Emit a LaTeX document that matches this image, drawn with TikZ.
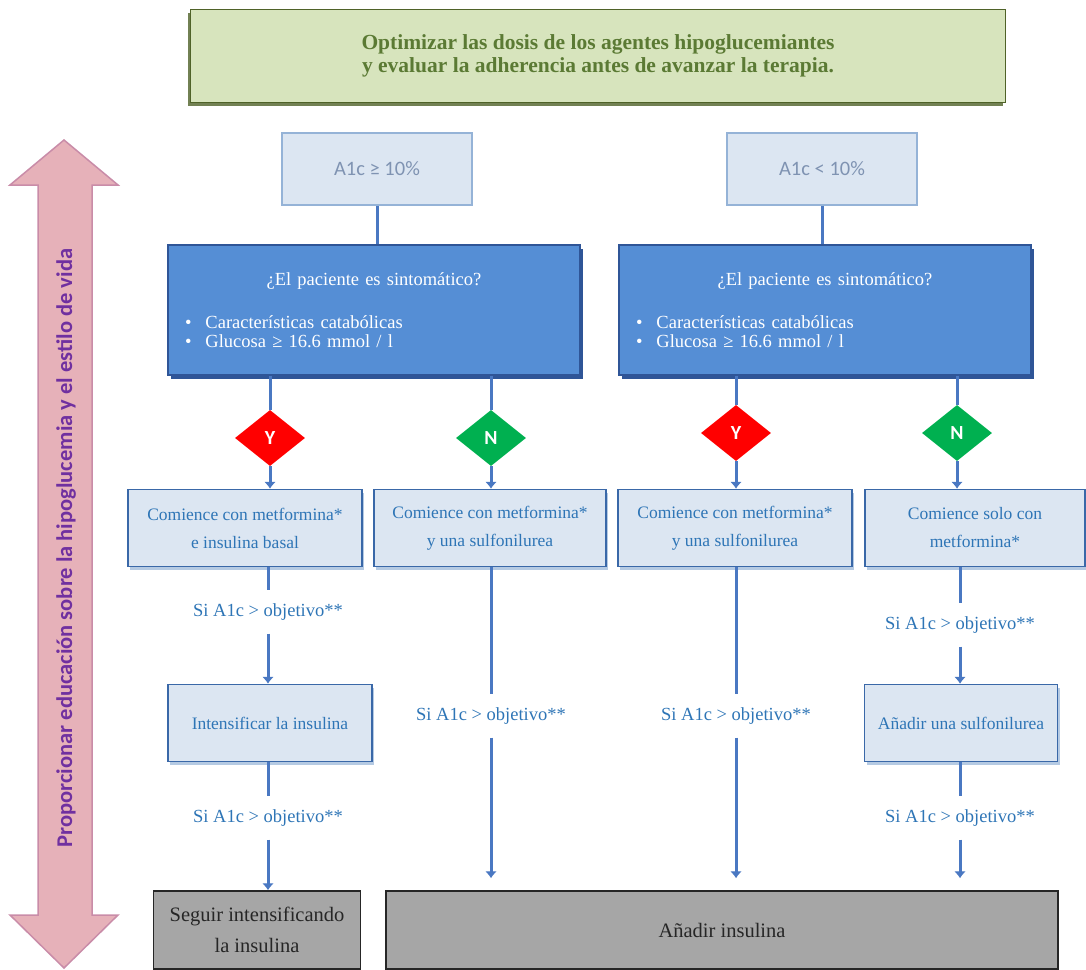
\documentclass[tikz,border=0pt]{standalone}
\usepackage{fontspec}
\setmainfont{Liberation Serif}
\setsansfont{Carlito}
\usetikzlibrary{shapes.geometric,arrows.meta,shadows}

\definecolor{greenfill}{HTML}{D7E4BD}
\definecolor{greenline}{HTML}{4F6228}
\definecolor{greentext}{HTML}{5B7A34}
\definecolor{pinkfill}{HTML}{E6B1B9}
\definecolor{pinkline}{HTML}{C98CA8}
\definecolor{purpletext}{HTML}{7030A0}
\definecolor{lightfill}{HTML}{DCE6F2}
\definecolor{lightline}{HTML}{95B3D7}
\definecolor{boxline}{HTML}{3A68A8}
\definecolor{bluefill}{HTML}{558ED5}
\definecolor{blueline}{HTML}{2F5597}
\definecolor{linkblue}{HTML}{4A78C2}
\definecolor{labelblue}{HTML}{2E75B6}
\definecolor{greyfill}{HTML}{A6A6A6}
\definecolor{greytext}{HTML}{262626}
\definecolor{yesred}{HTML}{FF0000}
\definecolor{nogreen}{HTML}{00B050}
\definecolor{a1ctext}{HTML}{7F93B2}

\tikzset{
  topbox/.style={draw=greenline, line width=1.5pt, fill=greenfill, text=greentext,
    minimum width=815pt, minimum height=93pt, align=center,
    font=\bfseries\fontsize{21.5}{23}\selectfont,
    general shadow={fill=greenline!80, shadow xshift=-3pt, shadow yshift=-3pt}},
  a1cbox/.style={draw=lightline, line width=1.5pt, fill=lightfill, text=a1ctext,
    minimum width=190pt, minimum height=72pt, font=\sffamily\fontsize{20.5}{22}\selectfont},
  bluebox/.style={draw=blueline, line width=1.2pt, fill=bluefill, text=white,
    minimum width=412pt, minimum height=130pt, text width=378pt, inner xsep=17pt,
    align=left, font=\fontsize{18.5}{19}\selectfont,
    general shadow={fill=blueline, shadow xshift=3pt, shadow yshift=-4pt}},
  lightbox/.style={draw=boxline, line width=1.5pt, fill=lightfill, text=labelblue,
    minimum height=77pt, inner sep=0pt, align=center, font=\fontsize{17.5}{28}\selectfont,
    general shadow={fill=lightline!70, shadow xshift=2pt, shadow yshift=-3pt}},
  greybox/.style={draw=greytext, line width=1.5pt, fill=greyfill, text=greytext,
    minimum height=78pt, inner sep=0pt, align=center, font=\fontsize{20.5}{31}\selectfont},
  yesdiamond/.style={diamond, fill=yesred, text=white, minimum width=70pt,
    minimum height=56pt, inner sep=0pt, font=\sffamily\bfseries\fontsize{20}{20}\selectfont},
  nodiamond/.style={yesdiamond, fill=nogreen},
  cond/.style={text=labelblue, inner xsep=2pt, inner ysep=13pt, font=\fontsize{18.5}{19}\selectfont},
  link/.style={draw=linkblue, line width=3pt},
  arrowlink/.style={link, -{Latex[length=7pt,width=12pt]}}
}

\begin{document}
\begin{tikzpicture}[x=1pt,y=-1pt]
  \useasboundingbox (0,0) rectangle (1086,969);

  % left double arrow
  \draw[pinkline, line width=1.5pt, fill=pinkfill]
    (64,140) -- (118,185) -- (92,185) -- (92,915) -- (118,915) -- (64,968)
    -- (10,915) -- (38,915) -- (38,185) -- (10,185) -- cycle;
  \node[rotate=90, text=purpletext, font=\sffamily\bfseries\fontsize{22.5}{24}\selectfont]
    (edu) at (66,548) {Proporcionar educación sobre la hipoglucemia y el estilo de vida};

  % top note
  \node[topbox] (optim) at (598,56)
    {Optimizar las dosis de los agentes  hipoglucemiantes\\ y evaluar la adherencia antes de avanzar la terapia.};

  % A1c split
  \node[a1cbox] (a1chigh) at (377,169) {A1c ≥ 10\%};
  \node[a1cbox] (a1clow) at (822,169) {A1c < 10\%};

  \node[bluebox] (symL) at (374,310)
    {\makebox[\linewidth]{¿El paciente es sintomático?}\\[24pt]
     \textbullet\hspace{14pt}Características catabólicas\\
     \textbullet\hspace{14pt}Glucosa ≥ 16.6 mmol / l};
  \node[bluebox] (symR) at (825,310)
    {\makebox[\linewidth]{¿El paciente es sintomático?}\\[24pt]
     \textbullet\hspace{14pt}Características catabólicas\\
     \textbullet\hspace{14pt}Glucosa ≥ 16.6 mmol / l};

  % yes / no
  \node[yesdiamond] (yesL) at (270,438) {Y};
  \node[nodiamond] (noL) at (491,438) {N};
  \node[yesdiamond] (yesR) at (736,433) {Y};
  \node[nodiamond] (noR) at (957,433) {N};

  % first treatment
  \node[lightbox, minimum width=234pt] (startA) at (245,528) {Comience con metformina*\\ e insulina basal};
  \node[lightbox, minimum width=232pt] (startB) at (490,528) {Comience con metformina*\\ y una sulfonilurea};
  \node[lightbox, minimum width=234pt] (startC) at (735,528) {Comience con metformina*\\ y una sulfonilurea};
  \node[lightbox, minimum width=220pt] (startD) at (975,528) {Comience  solo con\\ metformina*};

  % conditions
  \node[cond] (ifA1) at (268,612) {Si A1c > objetivo**};
  \node[cond] (ifA2) at (268,818) {Si A1c > objetivo**};
  \node[cond] (ifB) at (491,716) {Si A1c > objetivo**};
  \node[cond] (ifC) at (736,716) {Si A1c > objetivo**};
  \node[cond] (ifD1) at (960,625) {Si A1c > objetivo**};
  \node[cond] (ifD2) at (960,818) {Si A1c > objetivo**};

  % second step
  \node[lightbox, minimum width=204pt] (intens) at (270,723) {Intensificar la insulina};
  \node[lightbox, minimum width=193pt] (sulfo) at (961,723) {Añadir una sulfonilurea};

  % last step
  \node[greybox, minimum width=207pt] (keep) at (257,930) {Seguir intensificando\\ la insulina};
  \node[greybox, minimum width=672pt] (addins) at (722,930) {Añadir insulina};

  % connectors
  \draw[link] (a1chigh) -- (a1chigh |- symL.north);
  \draw[link] (a1clow) -- (a1clow |- symR.north);
  \draw[link] (yesL |- symL.south) -- (yesL);
  \draw[link] (noL |- symL.south) -- (noL);
  \draw[link] (yesR |- symR.south) -- (yesR);
  \draw[link] (noR |- symR.south) -- (noR);
  \draw[arrowlink] (yesL) -- (yesL |- startA.north);
  \draw[arrowlink] (noL) -- (noL |- startB.north);
  \draw[arrowlink] (yesR) -- (yesR |- startC.north);
  \draw[arrowlink] (noR) -- (noR |- startD.north);

  \draw[link] (ifA1 |- startA.south) -- (ifA1);
  \draw[arrowlink] (ifA1) -- (ifA1 |- intens.north);
  \draw[link] (ifA2 |- intens.south) -- (ifA2);
  \draw[arrowlink] (ifA2) -- (ifA2 |- keep.north);

  \draw[link] (ifB |- startB.south) -- (ifB);
  \draw[arrowlink, shorten >=12pt] (ifB) -- (ifB |- addins.north);
  \draw[link] (ifC |- startC.south) -- (ifC);
  \draw[arrowlink, shorten >=12pt] (ifC) -- (ifC |- addins.north);

  \draw[link] (ifD1 |- startD.south) -- (ifD1);
  \draw[arrowlink] (ifD1) -- (ifD1 |- sulfo.north);
  \draw[link] (ifD2 |- sulfo.south) -- (ifD2);
  \draw[arrowlink, shorten >=12pt] (ifD2) -- (ifD2 |- addins.north);
\end{tikzpicture}
\end{document}
